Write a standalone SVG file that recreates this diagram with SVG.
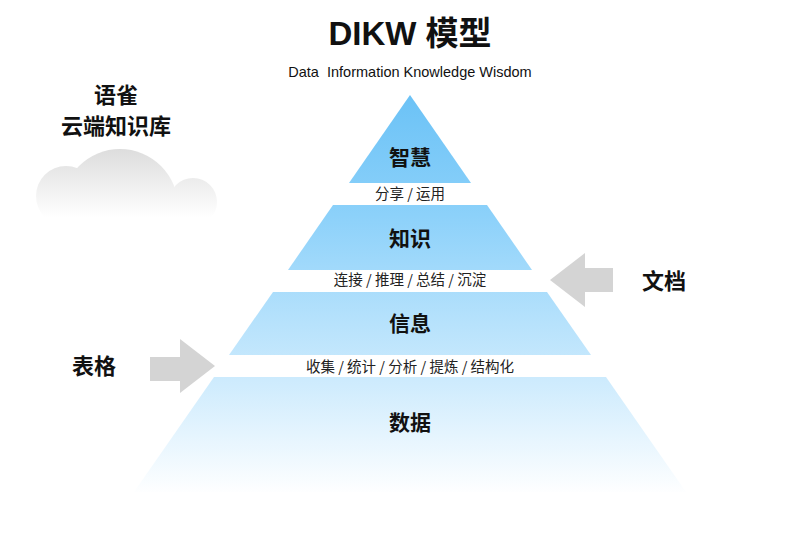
<svg xmlns="http://www.w3.org/2000/svg" width="800" height="537" viewBox="0 0 800 537">
<defs>
<linearGradient id="pyr" gradientUnits="userSpaceOnUse" x1="0" y1="95" x2="0" y2="495">
<stop offset="0" stop-color="#6BC2F6"/>
<stop offset="0.3" stop-color="#8CD1FA"/>
<stop offset="0.7" stop-color="#CBEAFD"/>
<stop offset="1" stop-color="#FFFFFF"/>
</linearGradient>
<linearGradient id="cloud" gradientUnits="userSpaceOnUse" x1="0" y1="148" x2="0" y2="217">
<stop offset="0" stop-color="#DCDCDC"/>
<stop offset="1" stop-color="#FFFFFF"/>
</linearGradient>
<clipPath id="cloudClip"><rect x="0" y="100" width="260" height="117"/></clipPath>
<style>
.lvl{fill:url(#pyr)}
.lbl{font-family:"Noto Sans CJK SC","Noto Sans",sans-serif;font-weight:bold;font-size:21px;fill:#111;text-anchor:middle}
.sub{font-family:"Noto Sans CJK SC","Noto Sans",sans-serif;font-size:14.5px;fill:#222;text-anchor:middle}
.side{font-family:"Noto Sans CJK SC","Noto Sans",sans-serif;font-weight:bold;font-size:22px;fill:#111;text-anchor:middle}
.arrow{fill:#D4D4D4}
.cl{fill:url(#cloud)}
</style>
</defs>
<rect width="800" height="537" fill="#FFFFFF"/>
<g id="title">
<text x="410" y="45" text-anchor="middle" font-family="'Liberation Sans','Noto Sans CJK SC',sans-serif" font-weight="bold" font-size="33" fill="#111">DIKW 模型</text>
<text x="410" y="77" text-anchor="middle" font-family="'Liberation Sans',sans-serif" font-size="14.5" fill="#111" xml:space="preserve">Data  Information Knowledge Wisdom</text>
</g>
<g id="cloud-node">
<g clip-path="url(#cloudClip)">
<circle class="cl" cx="66" cy="196" r="30"/>
<circle class="cl" cx="120" cy="207" r="58"/>
<circle class="cl" cx="193" cy="202" r="24"/>
</g>
<text class="side" x="116" y="103">语雀</text>
<text class="side" x="116" y="134">云端知识库</text>
</g>
<g id="wisdom">
<polygon class="lvl" points="410,95 471,183 349,183"/>
<text class="lbl" x="410" y="165">智慧</text>
<text class="sub" x="410" y="199">分享 / 运用</text>
</g>
<g id="knowledge">
<polygon class="lvl" points="333,205 487,205 532,270 288,270"/>
<text class="lbl" x="410" y="246">知识</text>
<text class="sub" x="410" y="285">连接 / 推理 / 总结 / 沉淀</text>
</g>
<g id="information">
<polygon class="lvl" points="273,292 547,292 591,355 229,355"/>
<text class="lbl" x="410" y="331">信息</text>
<text class="sub" x="410" y="372">收集 / 统计 / 分析 / 提炼 / 结构化</text>
</g>
<g id="data">
<polygon class="lvl" points="214,377 606,377 686,492 134,492"/>
<text class="lbl" x="410" y="430">数据</text>
</g>
<g id="connectors">
<polygon class="arrow" points="150,357 180,357 180,339 215,366 180,393 180,381 150,381"/>
<polygon class="arrow" points="613,268 585,268 585,253 550,280 585,307 585,292 613,292"/>
</g>
<g id="doc">
<text class="side" x="664" y="289">文档</text>
</g>
<g id="table">
<text class="side" x="94" y="374">表格</text>
</g>
</svg>
